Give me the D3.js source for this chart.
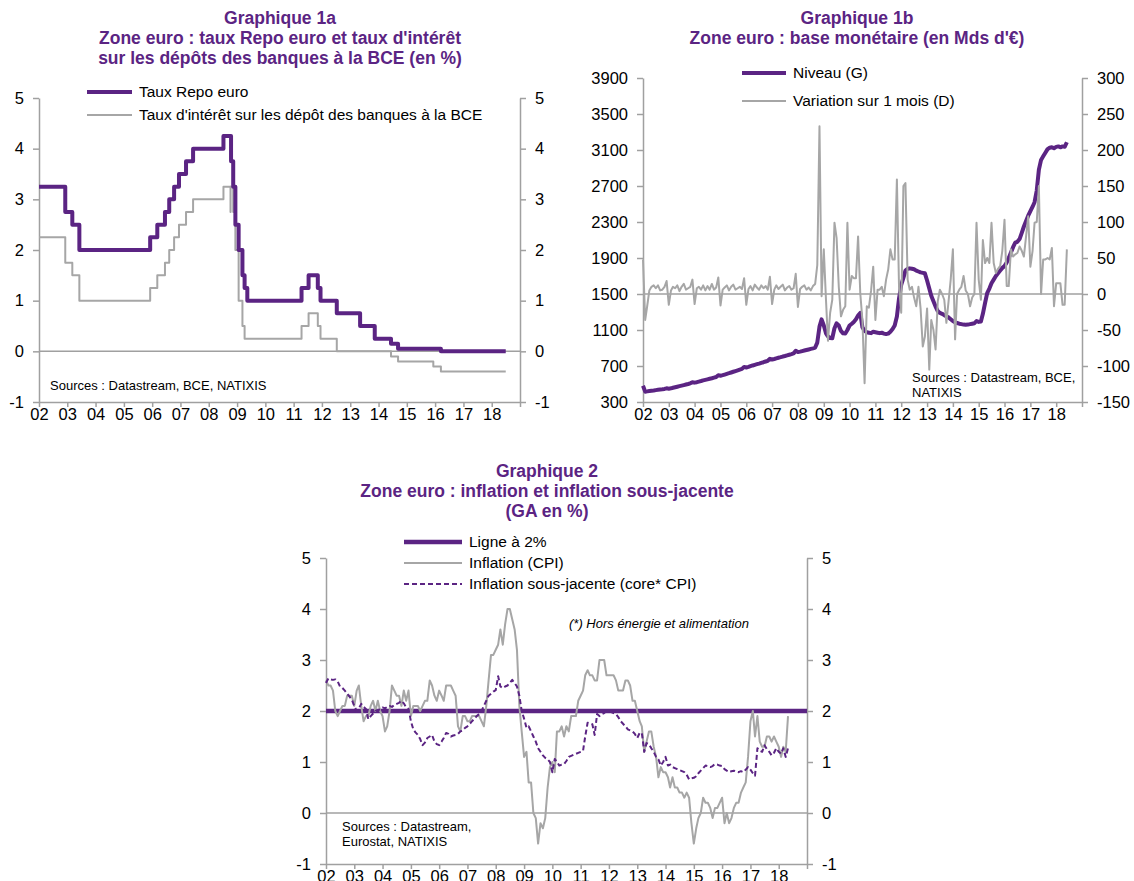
<html>
  <head>
    <title>Zone euro : taux, base monétaire et inflation</title>
    <script src="https://d3js.org/d3.v7.min.js"></script>
    <style>
      body {
        margin: 0;
        background-color: #fff;
      }
      svg text {
        font-family: "Liberation Sans", Arial, sans-serif;
      }
    </style>
  </head>

  <body>
    <svg width="1134" height="881"></svg>

    <script>
      // ---------- data ----------
      var yearLabels = ["02","03","04","05","06","07","08","09","10","11","12","13","14","15","16","17","18"];

      // Graphique 1a : taux directeurs BCE (dates de changement)
      var repoDates = ["2002-01-01","2002-12-06","2003-03-07","2003-06-06","2005-12-06","2006-03-08","2006-06-15","2006-08-09",
        "2006-10-11","2006-12-13","2007-03-14","2007-06-13","2008-07-09","2008-10-15","2008-11-12","2008-12-10","2009-01-21",
        "2009-03-11","2009-04-08","2009-05-13","2011-04-13","2011-07-13","2011-11-09","2011-12-14","2012-07-11","2013-05-08",
        "2013-11-13","2014-06-11","2014-09-10","2016-03-16","2018-07-01"];
      var repoValues = [3.25,2.75,2.5,2.0,2.25,2.5,2.75,3.0,3.25,3.5,3.75,4.0,4.25,3.75,3.25,2.5,2.0,1.5,1.25,1.0,
        1.25,1.5,1.25,1.0,0.75,0.5,0.25,0.15,0.05,0.0,0.0];

      var depoDates = ["2002-01-01","2002-12-06","2003-03-07","2003-06-06","2005-12-06","2006-03-08","2006-06-15","2006-08-09",
        "2006-10-11","2006-12-13","2007-03-14","2007-06-13","2008-07-09","2008-10-08","2008-10-09","2008-11-12","2008-12-10",
        "2009-01-21","2009-03-11","2009-04-08","2011-04-13","2011-07-13","2011-11-09","2011-12-14","2012-07-11","2014-06-11",
        "2014-09-10","2015-12-09","2016-03-16","2018-07-01"];
      var depoValues = [2.25,1.75,1.5,1.0,1.25,1.5,1.75,2.0,2.25,2.5,2.75,3.0,3.25,2.75,3.25,2.75,2.0,
        1.0,0.5,0.25,0.5,0.75,0.5,0.25,0.0,-0.1,-0.2,-0.3,-0.4,-0.4];

      // Graphique 1b : base monétaire, mensuel depuis janvier 2002 (Mds d'€)
      var baseNiveau = [
        480,415,418,422,425,428,432,435,438,441,445,452,
        448,452,458,464,470,476,482,488,494,500,507,520,
        515,520,527,533,540,546,552,558,564,571,578,598,
        592,598,605,613,620,628,636,644,652,660,668,690,
        684,690,698,706,713,720,727,735,742,750,758,780,
        772,778,785,792,798,805,811,818,825,832,840,868,
        855,860,866,872,878,884,890,896,905,960,1137,1218,
        1150,1063,1030,1010,1008,1120,1174,1150,1090,1063,1060,1100,
        1150,1170,1190,1220,1260,1290,1130,1090,1075,1070,1065,1080,
        1075,1070,1065,1070,1060,1055,1060,1080,1110,1150,1250,1450,
        1600,1680,1760,1780,1785,1780,1775,1760,1750,1740,1735,1730,
        1650,1560,1480,1420,1360,1310,1290,1280,1265,1252,1240,1220,
        1200,1185,1178,1170,1165,1160,1158,1160,1165,1170,1175,1200,
        1190,1195,1280,1400,1510,1560,1620,1660,1700,1730,1760,1790,
        1810,1850,1900,1960,2020,2070,2080,2110,2180,2250,2310,2370,
        2420,2470,2520,2650,2880,2990,3030,3070,3110,3125,3130,3120,
        3135,3140,3130,3140,3135,3186];
      var baseVariation = [
        48,-36,-17,5,10,12,8,12,5,6,10,18,
        -15,5,10,8,12,4,10,14,6,8,10,20,
        -14,8,10,6,12,5,11,6,14,6,9,23,
        -16,6,9,12,5,10,13,6,8,10,7,22,
        -15,7,11,5,13,9,6,12,8,11,6,24,
        -14,6,12,7,10,13,5,9,11,6,8,28,
        -18,7,10,12,6,9,5,11,14,40,233,-3,
        62,-8,-65,-26,-8,99,78,10,-31,-22,-17,99,
        6,25,22,22,80,1,-36,-124,-17,-19,5,38,
        -36,6,6,10,-3,20,34,62,48,48,159,10,
        -26,150,154,20,6,10,-5,-17,10,-20,-73,-59,
        -20,-105,-36,-50,-77,-10,6,0,-8,-40,-10,20,
        62,-63,0,6,10,25,5,0,-17,-5,0,99,
        20,-8,75,43,50,43,99,43,29,35,39,60,
        103,11,11,62,52,55,57,66,60,52,80,108,
        38,60,99,100,150,0,48,48,50,48,64,-17,
        15,15,15,-15,-15,62];

      // Graphique 2 : inflation (GA en %), mensuel depuis janvier 2002
      var cpi = [
        2.6,2.5,2.5,2.4,2.0,1.9,2.0,2.1,2.1,2.3,2.3,2.3,
        2.1,2.4,2.5,2.1,1.8,1.9,1.9,2.1,2.2,2.0,2.2,2.0,
        1.9,1.6,1.7,2.0,2.5,2.4,2.3,2.3,2.1,2.4,2.2,2.4,
        1.9,2.1,2.1,2.1,2.0,2.1,2.2,2.2,2.6,2.5,2.3,2.2,
        2.4,2.3,2.2,2.5,2.5,2.5,2.4,2.3,1.7,1.6,1.9,1.9,
        1.8,1.8,1.9,1.9,1.9,1.9,1.8,1.7,2.1,2.6,3.1,3.1,
        3.2,3.3,3.6,3.3,3.7,4.0,4.0,3.8,3.6,3.2,2.1,1.6,
        1.1,1.2,0.6,0.6,0.0,-0.1,-0.6,-0.2,-0.3,-0.1,0.5,0.9,
        1.0,0.8,1.6,1.6,1.7,1.5,1.7,1.6,1.9,1.9,1.9,2.2,
        2.3,2.4,2.7,2.8,2.7,2.7,2.6,2.6,3.0,3.0,3.0,2.7,
        2.7,2.7,2.7,2.6,2.4,2.4,2.4,2.6,2.6,2.5,2.2,2.2,
        2.0,1.8,1.7,1.2,1.4,1.6,1.6,1.3,1.1,0.7,0.9,0.8,
        0.8,0.7,0.5,0.7,0.5,0.5,0.4,0.4,0.3,0.4,0.3,-0.2,
        -0.6,-0.3,-0.1,0.0,0.3,0.2,0.2,0.1,-0.1,0.1,0.1,0.2,
        0.3,-0.2,0.0,-0.2,-0.1,0.1,0.2,0.2,0.4,0.5,0.6,1.1,
        1.8,2.0,1.5,1.9,1.4,1.3,1.3,1.5,1.5,1.4,1.5,1.4,
        1.3,1.1,1.3,1.2,1.9];
      var coreCpi = [
        2.55,2.64,2.62,2.61,2.62,2.58,2.48,2.45,2.40,2.34,2.28,2.22,
        2.10,2.00,2.05,2.14,2.08,2.04,1.84,1.90,1.95,2.00,2.02,2.03,
        2.07,2.05,2.08,2.10,2.08,2.12,2.14,2.16,2.20,2.15,2.07,2.04,
        1.80,1.64,1.58,1.53,1.45,1.33,1.38,1.47,1.50,1.53,1.40,1.35,
        1.33,1.40,1.47,1.57,1.55,1.50,1.52,1.53,1.55,1.60,1.62,1.67,
        1.70,1.75,1.80,1.85,1.90,1.94,2.00,2.10,2.20,2.30,2.34,2.38,
        2.41,2.68,2.48,2.45,2.48,2.50,2.55,2.61,2.55,2.48,2.30,2.00,
        1.85,1.67,1.70,1.60,1.50,1.40,1.27,1.20,1.13,1.08,1.05,1.00,
        0.80,1.06,1.00,0.93,0.95,0.96,1.02,1.10,1.12,1.14,1.16,1.18,
        1.20,1.22,1.50,1.77,1.76,1.74,1.53,1.94,1.90,1.94,1.96,2.00,
        2.00,1.98,1.96,1.94,1.88,1.80,1.75,1.70,1.64,1.62,1.60,1.55,
        1.47,1.57,1.57,1.20,1.37,1.35,1.27,1.20,1.10,1.05,0.93,1.00,
        1.10,0.93,0.95,0.90,0.88,0.86,0.84,0.82,0.80,0.75,0.66,0.68,
        0.69,0.72,0.78,0.83,0.88,0.93,0.92,0.90,0.92,0.96,0.95,0.93,
        0.92,0.86,0.83,0.80,0.82,0.83,0.81,0.80,0.82,0.80,0.85,0.90,
        0.85,0.78,0.73,1.27,1.22,1.20,1.33,1.25,1.20,1.13,1.18,1.27,
        1.20,1.16,1.27,1.10,1.27];
      var targetRate = 2;

      var ticks1aLeft = [-1,0,1,2,3,4,5];
      var ticks1bLeft = [300,700,1100,1500,1900,2300,2700,3100,3500,3900];
      var ticks1bRight = [-150,-100,-50,0,50,100,150,200,250,300];

      // ---------- setup ----------
      var svg = d3.select("svg");
      var purple = "#5b2483", grey = "#a6a6a6", axisGrey = "#a0a0a0";
      var parseDay = d3.timeParse("%Y-%m-%d");
      var start = new Date(2002, 0, 1), end = new Date(2019, 0, 1);
      var yearTicks = d3.timeYear.range(start, d3.timeYear.offset(end, 1));

      var monthDate = function(i){ return d3.timeMonth.offset(start, i); };

      var styleAxis = function(g, size){
        g.select(".domain").attr("stroke", axisGrey).attr("stroke-width", 1.5);
        g.selectAll(".tick line").attr("stroke", axisGrey).attr("stroke-width", 1.5);
        g.selectAll(".tick text").attr("fill", "#000").attr("font-size", size)
          .style("font-family", "'Liberation Sans', Arial, sans-serif");
      };

      var drawAxes = function(x, yL, yR, ticksL, ticksR){
        var x0 = x.range()[0], x1 = x.range()[1], yb = yL.range()[0];
        var gx = svg.append("g").attr("transform", "translate(0," + yb + ")")
          .call(d3.axisBottom(x).tickValues(yearTicks).tickSize(5).tickSizeOuter(0).tickPadding(1)
            .tickFormat(function(d, i){ return yearLabels[i] || ""; }));
        styleAxis(gx, "16.5px");
        var gl = svg.append("g").attr("transform", "translate(" + x0 + ",0)")
          .call(d3.axisLeft(yL).tickValues(ticksL).tickSize(6).tickSizeOuter(0).tickPadding(9)
            .tickFormat(function(d){ return String(d); }));
        styleAxis(gl, "16.5px");
        var gr = svg.append("g").attr("transform", "translate(" + x1 + ",0)")
          .call(d3.axisRight(yR).tickValues(ticksR).tickSize(6).tickSizeOuter(0).tickPadding(9)
            .tickFormat(function(d){ return String(d); }));
        styleAxis(gr, "16.5px");
        // zero line
        svg.append("line").attr("x1", x0).attr("x2", x1)
          .attr("y1", yR(0)).attr("y2", yR(0))
          .attr("stroke", axisGrey).attr("stroke-width", 1.5);
      };

      var title = function(cx, y, lines){
        var t = svg.append("text").attr("x", cx).attr("y", y)
          .attr("text-anchor", "middle").attr("font-weight", "bold")
          .attr("font-size", "17.5px").attr("fill", purple);
        lines.forEach(function(l, i){
          t.append("tspan").attr("x", cx).attr("dy", i === 0 ? 0 : 20).text(l);
        });
      };

      var legendRow = function(xa, xb, y, label, color, width, dash){
        svg.append("line").attr("x1", xa).attr("x2", xb).attr("y1", y).attr("y2", y)
          .attr("stroke", color).attr("stroke-width", width)
          .attr("stroke-dasharray", dash || null);
        svg.append("text").attr("x", xb + 7).attr("y", y).attr("dy", "0.35em")
          .attr("font-size", "15.5px").attr("fill", "#000").text(label);
      };

      var note = function(x, y, lines, italic){
        lines.forEach(function(l, i){
          svg.append("text").attr("x", x).attr("y", y + i * 15)
            .attr("font-size", "13px").attr("fill", "#000")
            .attr("font-style", italic ? "italic" : null).text(l);
        });
      };

      var drawPath = function(data, line, color, width, dash){
        svg.append("path").datum(data).attr("d", line)
          .attr("fill", "none").attr("stroke", color).attr("stroke-width", width)
          .attr("stroke-linejoin", "round")
          .attr("stroke-dasharray", dash || null);
      };

      // ---------- Graphique 1a ----------
      var x1a = d3.scaleTime().domain([start, end]).range([39, 520]);
      var y1a = d3.scaleLinear().domain([-1, 5]).range([402, 98]);

      title(280, 24, ["Graphique 1a", "Zone euro : taux Repo euro et taux d'intérêt", "sur les dépôts des banques à la BCE (en %)"]);
      drawAxes(x1a, y1a, y1a, ticks1aLeft, ticks1aLeft);

      var step1a = d3.line().curve(d3.curveStepAfter)
        .x(function(d){ return x1a(d.date); }).y(function(d){ return y1a(d.value); });
      var depo = depoDates.map(function(d, i){ return {date: parseDay(d), value: depoValues[i]}; });
      var repo = repoDates.map(function(d, i){ return {date: parseDay(d), value: repoValues[i]}; });
      drawPath(depo, step1a, grey, 2);
      drawPath(repo, step1a, purple, 4);

      legendRow(87, 132, 92, "Taux Repo euro", purple, 4);
      legendRow(87, 132, 115, "Taux d'intérêt sur les dépôt des banques à la BCE", grey, 2);
      note(50, 390, ["Sources : Datastream, BCE, NATIXIS"]);

      // ---------- Graphique 1b ----------
      var x1b = d3.scaleTime().domain([start, end]).range([643, 1082]);
      var y1bL = d3.scaleLinear().domain([300, 3900]).range([402, 78]);
      var y1bR = d3.scaleLinear().domain([-150, 300]).range([402, 78]);

      title(857, 24, ["Graphique 1b", "Zone euro : base monétaire (en Mds d'€)"]);
      drawAxes(x1b, y1bL, y1bR, ticks1bLeft, ticks1bRight);

      var lineNiveau = d3.line()
        .x(function(d, i){ return x1b(monthDate(i)); }).y(function(d){ return y1bL(d); });
      var lineVar = d3.line()
        .x(function(d, i){ return x1b(monthDate(i)); }).y(function(d){ return y1bR(d); });
      drawPath(baseNiveau, lineNiveau, purple, 4);
      drawPath(baseVariation, lineVar, grey, 2);

      legendRow(742, 786, 73, "Niveau (G)", purple, 4);
      legendRow(742, 786, 101, "Variation sur 1 mois (D)", grey, 2);
      note(912, 382, ["Sources : Datastream, BCE,", "NATIXIS"]);

      // ---------- Graphique 2 ----------
      var x2 = d3.scaleTime().domain([start, end]).range([326, 807]);
      var y2 = d3.scaleLinear().domain([-1, 5]).range([864, 558]);

      title(547, 477, ["Graphique 2", "Zone euro : inflation et inflation sous-jacente", "(GA en %)"]);
      drawAxes(x2, y2, y2, ticks1aLeft, ticks1aLeft);

      var line2 = d3.line()
        .x(function(d, i){ return x2(monthDate(i)); }).y(function(d){ return y2(d); });
      svg.append("line").attr("x1", x2(start)).attr("x2", x2(end))
        .attr("y1", y2(targetRate)).attr("y2", y2(targetRate))
        .attr("stroke", purple).attr("stroke-width", 4.5);
      drawPath(cpi, line2, grey, 2);
      drawPath(coreCpi, line2, purple, 2, "5,3");

      legendRow(404, 462, 542, "Ligne à 2%", purple, 4.5);
      legendRow(404, 462, 563, "Inflation (CPI)", grey, 2);
      legendRow(404, 462, 584, "Inflation sous-jacente (core* CPI)", purple, 2, "5,3");
      note(569, 628, ["(*) Hors énergie et alimentation"], true);
      note(342, 831, ["Sources : Datastream,", "Eurostat, NATIXIS"]);
    </script>
  </body>
</html>
